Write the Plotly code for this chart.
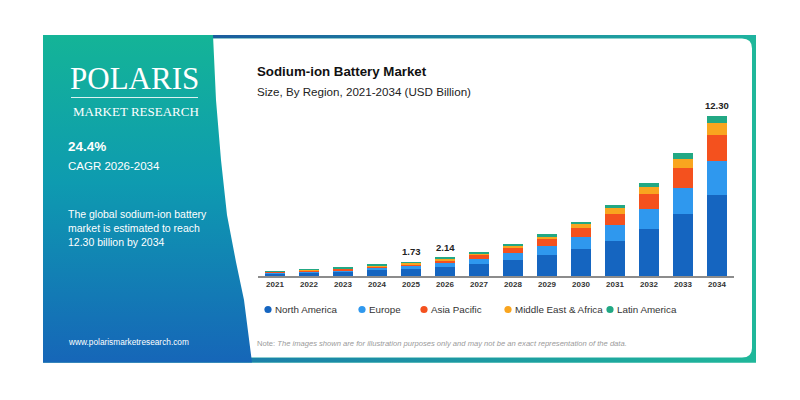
import base64
import plotly.graph_objects as go

# ---------------- data ----------------
years = ["2021", "2022", "2023", "2024", "2025", "2026", "2027",
         "2028", "2029", "2030", "2031", "2032", "2033", "2034"]
north_america = [0.19, 0.25, 0.32, 0.43, 0.52, 0.70, 0.92, 1.21, 1.60, 2.05, 2.72, 3.59, 4.75, 6.20]
europe        = [0.08, 0.11, 0.14, 0.19, 0.23, 0.31, 0.40, 0.53, 0.70, 0.97, 1.21, 1.56, 2.05, 2.65]
asia_pacific  = [0.06, 0.08, 0.10, 0.14, 0.17, 0.22, 0.30, 0.39, 0.51, 0.65, 0.85, 1.15, 1.50, 1.98]
middle_east_africa = [0.03, 0.04, 0.05, 0.07, 0.08, 0.11, 0.14, 0.19, 0.25, 0.31, 0.44, 0.52, 0.68, 0.95]
latin_america = [0.02, 0.03, 0.03, 0.04, 0.05, 0.07, 0.09, 0.12, 0.15, 0.20, 0.24, 0.36, 0.46, 0.52]
region_names = ["North America", "Europe", "Asia Pacific", "Middle East & Africa", "Latin America"]
value_label_years = ["2025", "2026", "2034"]
value_label_texts = ["1.73", "2.14", "12.30"]

# ---------------- style ----------------
colors = ["#1565c0", "#2f98ee", "#f4511e", "#f9a51f", "#22a884"]
legend_marker_px = [268, 362, 424, 508, 610]
series = [north_america, europe, asia_pacific, middle_east_africa, latin_america]

W, H = 800, 400
def px(x):
    return x / W
def py(y):
    return 1 - y / H

# ---------------- decorative background as an SVG image ----------------
edge = [(213, 35), (216, 100), (221, 160), (227, 215), (236, 262), (244, 300), (252, 362.5)]
left_pts = "43,35 " + " ".join("%g,%g" % p for p in edge) + " 43,362.5"
svg = f'''<svg xmlns="http://www.w3.org/2000/svg" width="800" height="400" viewBox="0 0 800 400">
<defs>
<linearGradient id="lp" x1="0" y1="35" x2="0" y2="362.5" gradientUnits="userSpaceOnUse">
<stop offset="0" stop-color="#14b497"/><stop offset="0.45" stop-color="#0e9bb0"/><stop offset="1" stop-color="#1666b8"/>
</linearGradient>
<linearGradient id="ts" x1="210" y1="0" x2="756" y2="0" gradientUnits="userSpaceOnUse">
<stop offset="0" stop-color="#1a5c9e"/><stop offset="1" stop-color="#1fb3a0"/>
</linearGradient>
<linearGradient id="bs" x1="43" y1="0" x2="756" y2="0" gradientUnits="userSpaceOnUse">
<stop offset="0" stop-color="#1a6ab0"/><stop offset="1" stop-color="#1fb79a"/>
</linearGradient>
</defs>
<rect x="43" y="35" width="713" height="327.5" fill="#1fb79a"/>
<rect x="43" y="357.5" width="713" height="5" fill="url(#bs)"/>
<rect x="205" y="35" width="551" height="3.5" fill="url(#ts)"/>
<path d="M205,38.5 H742 Q752,38.5 752,48.5 V348 Q752,357.5 742,357.5 H205 Z" fill="#ffffff"/>
<polygon points="{left_pts}" fill="url(#lp)"/>
<line x1="71" y1="97.5" x2="198" y2="97.5" stroke="#ffffff" stroke-opacity="0.85" stroke-width="1"/>
</svg>'''
svg_uri = "data:image/svg+xml;base64," + base64.b64encode(svg.encode()).decode()

fig = go.Figure()

# ---------------- bars ----------------
for name, vals, col in zip(region_names, series, colors):
    fig.add_trace(go.Bar(x=years, y=vals, name=name, marker=dict(color=col, line=dict(width=0)),
                         showlegend=False, hoverinfo="x+y+name"))

totals = [sum(v) for v in zip(*series)]

annotations = []
shapes = []
for yr, t in zip(value_label_years, value_label_texts):
    i = years.index(yr)
    annotations.append(dict(x=i, y=totals[i], xref="x", yref="y", text="<b>%s</b>" % t,
                            showarrow=False, yanchor="bottom", yshift=3,
                            font=dict(family="Liberation Sans", size=9.5, color="#222")))

def txt(x, y, text, size, color="white", family="Liberation Sans", anchor="left"):
    annotations.append(dict(x=px(x), y=py(y), xref="paper", yref="paper", text=text,
                            showarrow=False, xanchor=anchor, yanchor="middle",
                            font=dict(family=family, size=size, color=color)))

# manual legend (circles + labels)
for name, col, mx in zip(region_names, colors, legend_marker_px):
    r = 3.6
    shapes.append(dict(type="circle", xref="paper", yref="paper",
                       x0=px(mx - r), x1=px(mx + r), y0=py(309.5 + r), y1=py(309.5 - r),
                       fillcolor=col, line=dict(width=0)))
    txt(mx + 5, 309.5, name, 9.8, color="#333")

txt(68, 78, "POLARIS", 31, family="Liberation Serif")
txt(71, 111, "MARKET RESEARCH", 13, family="Liberation Serif")
txt(66, 147, "<b>24.4%</b>", 13.5)
txt(66, 166, "CAGR 2026-2034", 11.5)
txt(66, 214, "The global sodium-ion battery", 10.5)
txt(66, 228, "market is estimated to reach", 10.5)
txt(66, 242, "12.30 billion by 2034", 10.5)
txt(66, 342, "www.polarismarketresearch.com", 8.3)
txt(255, 72, "<b>Sodium-ion Battery Market</b>", 13.3, color="#111")
txt(255, 91, "Size, By Region, 2021-2034 (USD Billion)", 11.6, color="#222")
txt(255, 343, "Note: <i>The images shown are for illustration purposes only and may not be an exact representation of the data.</i>",
    7.6, color="#9a9a9a")

fig.update_layout(
    width=W, height=H, margin=dict(l=0, r=0, t=0, b=0),
    paper_bgcolor="white", plot_bgcolor="rgba(0,0,0,0)",
    barmode="stack", bargap=0.41,
    shapes=shapes, annotations=annotations,
    images=[dict(source=svg_uri, xref="paper", yref="paper", x=0, y=1, sizex=1, sizey=1,
                 xanchor="left", yanchor="top", sizing="stretch", layer="below")],
    xaxis=dict(domain=[px(258), px(734)], type="category",
               categoryorder="array", categoryarray=years, range=[-0.5, 13.5],
               showline=True, linecolor="#8c8c8c", linewidth=1.5, ticks="",
               showgrid=False, zeroline=False, fixedrange=True,
               tickfont=dict(family="Liberation Sans", size=8, color="#333", weight="bold")),
    yaxis=dict(domain=[py(276), py(100)], range=[0, 176 / 13.0],
               visible=False, showgrid=False, fixedrange=True),
    showlegend=False,
)

fig.write_html("out.html", config={"displayModeBar": False})
